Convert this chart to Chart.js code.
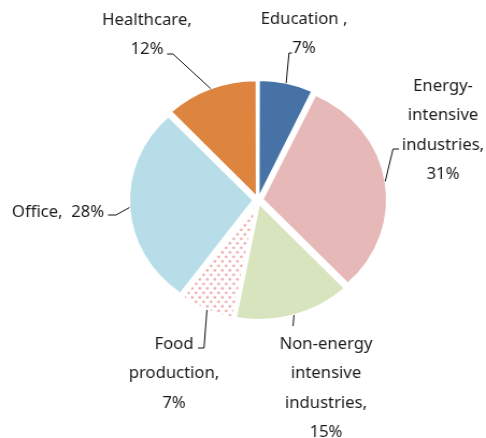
<!DOCTYPE html>
<html>
<head>
<meta charset="utf-8">
<script src="https://cdn.jsdelivr.net/npm/chart.js@4/dist/chart.umd.min.js"></script>
<style>
  body { margin: 0; background: #fff; }
</style>
</head>
<body>
<canvas id="sector_pie" width="452" height="438" style="width:486px;height:438px"></canvas>
<script>

// energy use share by sector (%)
const categories = ['Education', 'Energy-intensive industries', 'Non-energy intensive industries',
                    'Food production', 'Office', 'Healthcare'];
const shares = [7, 31, 15, 7, 28, 12];
const colors = ['#4672a6', '#e6b8b7', '#d7e4bd', 'dots', '#b7dee8', '#dd843f'];

// canvas is drawn narrow and stretched wide by css
const SX = 486 / 452;
const GAP = 4.8;   // how far each slice is pulled out

// label text + leader end points (page coords)
const labelLayout = [
  { lines: ['Education ,'], cx: 304, y: 24, path: [[289, 53], [292, 53]] },
  { lines: ['Energy-', 'intensive', 'industries,'], cx: 443, y: 91, path: [[393, 149], [399, 149]] },
  { lines: ['Non-energy', 'intensive', 'industries,'], cx: 326, y: 349, path: [[293, 326]] },
  { lines: ['Food', 'production,'], cx: 174, y: 349, path: [[204, 348], [198, 348]] },
  { lines: ['Office,'], inline: true, cx: 58, y: 217, path: [[116, 215], [108, 215]] },
  { lines: ['Healthcare,'], cx: 147, y: 25, path: [[173, 54], [167, 54]] }
];

function dotPattern(){
  const p = document.createElement('canvas');
  p.width = 7; p.height = 9;
  const c = p.getContext('2d');
  c.fillStyle = '#fff';
  c.fillRect(0, 0, 7, 9);
  c.fillStyle = '#ee9e9e';
  c.beginPath(); c.arc(1.5, 2, 1.2, 0, Math.PI * 2); c.fill();
  c.beginPath(); c.arc(5, 6.5, 1.2, 0, Math.PI * 2); c.fill();
  return document.getElementById('sector_pie').getContext('2d').createPattern(p, 'repeat');
}

const total = shares.reduce((a, b) => a + b, 0);

// chart.js moves an arc by offset/4*(1+fix), so undo that to get an even gap
function sliceOffset(ctx){
  const circ = ctx.raw / total * Math.PI * 2;
  const fix = 1 - Math.sin(Math.min(Math.PI, circ));
  return 4 * GAP / (1 + fix);
}

const leaderLabels = {
  id: 'leaderLabels',
  afterDatasetsDraw(chart){
    const ctx = chart.ctx;
    const arcs = chart.getDatasetMeta(0).data;
    ctx.save();
    ctx.strokeStyle = '#111';
    ctx.lineWidth = 1;
    ctx.fillStyle = '#1c1c1c';
    ctx.font = "15.5px 'Noto Sans'";
    ctx.textAlign = 'center';
    ctx.textBaseline = 'alphabetic';
    arcs.forEach((arc, i) => {
      const p = arc.getProps(['x', 'y', 'startAngle', 'endAngle', 'outerRadius'], true);
      const mid = (p.startAngle + p.endAngle) / 2;
      const r = p.outerRadius + GAP;
      const lay = labelLayout[i];

      ctx.beginPath();
      ctx.moveTo(p.x + Math.cos(mid) * r, p.y + Math.sin(mid) * r);
      lay.path.forEach(pt => ctx.lineTo(pt[0] / SX, pt[1]));
      ctx.stroke();

      const value = shares[i] + '%';
      let lines = lay.lines.slice();
      if(lay.inline){
        lines[lines.length - 1] += '  ' + value;
      }
      else{
        lines.push(value);
      }
      lines.forEach((t, k) => {
        ctx.fillText(t, lay.cx / SX, lay.y + k * 29.4);
      });
    });
    ctx.restore();
  }
};

const bg = colors.map(c => c === 'dots' ? dotPattern() : c);

new Chart(document.getElementById('sector_pie'), {
  type: 'pie',
  data: {
    labels: categories,
    datasets: [{
      data: shares,
      backgroundColor: bg,
      borderColor: '#ffffff',
      borderWidth: 1.5,
      offset: sliceOffset
    }]
  },
  options: {
    responsive: false,
    devicePixelRatio: 1,
    animation: false,
    radius: 115,
    layout: {
      padding: { left: 28, right: 0, top: 0, bottom: 38 }
    },
    plugins: {
      legend: { display: false },
      tooltip: { enabled: false }
    }
  },
  plugins: [leaderLabels]
});

</script>
</body>
</html>
